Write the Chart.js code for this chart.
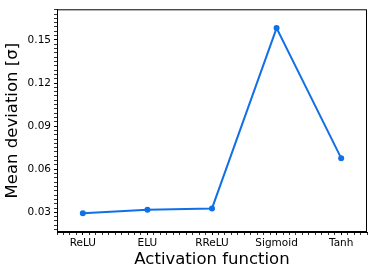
<!DOCTYPE html>
<html>
<head>
<meta charset="utf-8">
<script src="https://cdn.jsdelivr.net/npm/chart.js@4/dist/chart.umd.min.js"></script>
<style>
  html, body { margin: 0; padding: 0; background: #fff; }
  canvas { display: block; }
</style>
</head>
<body>
<canvas id="dev_chart" width="374" height="277"></canvas>
<script>
// activation functions on the x axis
const categories = ['ReLU', 'ELU', 'RReLU', 'Sigmoid', 'Tanh'];
// mean deviation in units of sigma
const meanDeviation = [0.0293, 0.0317, 0.0327, 0.1582, 0.0677];
// labelled y ticks
const yTickLabels = [0.03, 0.06, 0.09, 0.12, 0.15];

const lineColor = '#1170e6';
const fontFamily = "'DejaVu Sans', sans-serif";

function isMultiple(v, step) {
    let r = v / step;
    return Math.abs(r - Math.round(r)) < 1e-6;
}

// box around the plot, matplotlib style
const frame = {
    id: 'frame',
    afterDraw(chart) {
        let c = chart.ctx, a = chart.chartArea;
        c.save();
        c.strokeStyle = '#000';
        c.lineWidth = 1;
        c.strokeRect(a.left + 0.5, a.top + 0.5, a.right - a.left - 1, a.bottom - a.top - 1);
        c.restore();
    }
};

let ctx = document.getElementById('dev_chart');
let devChart = new Chart(ctx, {
    type: 'line',
    data: {
        datasets: [{
            label: 'Mean deviation',
            data: meanDeviation.map((v, i) => ({ x: i, y: v })),
            borderColor: lineColor,
            backgroundColor: lineColor,
            borderWidth: 2,
            pointRadius: 3,
            pointBorderWidth: 0,
            tension: 0
        }]
    },
    options: {
        responsive: false,
        animation: false,
        layout: { padding: { top: 6, right: 7, left: 0, bottom: 0 } },
        plugins: { legend: { display: false }, tooltip: { enabled: false } },
        scales: {
            x: {
                type: 'linear',
                min: -0.4,
                max: 4.4,
                afterFit(scale) { scale.height = 45; },
                grid: {
                    drawOnChartArea: false,
                    tickLength: 3,
                    tickColor: '#000',
                    tickWidth: c => isMultiple(c.tick.value, 1) ? 1 : 0.8
                },
                border: { color: '#000', width: 1 },
                ticks: {
                    stepSize: 0.1,
                    autoSkip: false,
                    includeBounds: false,
                    maxRotation: 0,
                    padding: 2,
                    color: '#000',
                    font: { family: fontFamily, size: 10.5 },
                    callback: v => isMultiple(v, 1) ? categories[Math.round(v)] : ''
                },
                title: {
                    display: true,
                    text: 'Activation function',
                    color: '#000',
                    font: { family: fontFamily, size: 16.5 },
                    padding: { top: 0, bottom: 7 }
                }
            },
            y: {
                min: 0.0163,
                max: 0.1713,
                afterFit(scale) { scale.width = 57; },
                grid: {
                    drawOnChartArea: false,
                    tickLength: 3,
                    tickColor: '#000',
                    tickWidth: c => isMultiple(c.tick.value, 0.03) ? 1 : 0.8
                },
                border: { color: '#000', width: 1 },
                ticks: {
                    stepSize: 0.003,
                    autoSkip: false,
                    includeBounds: false,
                    padding: 3,
                    color: '#000',
                    font: { family: fontFamily, size: 10.5 },
                    callback: v => {
                        let hit = yTickLabels.find(t => Math.abs(t - v) < 1e-6);
                        return hit !== undefined ? hit.toFixed(2) : '';
                    }
                },
                title: {
                    display: true,
                    text: 'Mean deviation [σ]',
                    color: '#000',
                    font: { family: fontFamily, size: 16.5 },
                    padding: { top: 3, bottom: 0 }
                }
            }
        }
    },
    plugins: [frame]
});
</script>
</body>
</html>
